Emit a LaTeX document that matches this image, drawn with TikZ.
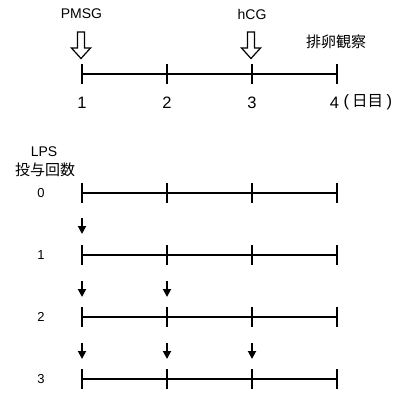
\documentclass[tikz,border=0pt]{standalone}
\usepackage{fontspec}
\setmainfont{Liberation Sans}
\newfontfamily\jpfont{Noto Sans CJK JP}
\usetikzlibrary{arrows.meta}
\begin{document}
\begin{tikzpicture}[x=1pt,y=-1pt,
  tl/.style={line width=1.1pt},
  tk/.style={line width=1.8pt},
  lbl/.style={font=\fontsize{14}{16}\selectfont, inner sep=0pt},
  rowlbl/.style={font=\fontsize{13}{15}\selectfont, inner sep=0pt},
  jp/.style={font=\jpfont\fontsize{15}{17}\selectfont, inner sep=0pt},
  num/.style={font=\fontsize{16.5}{18}\selectfont, inner sep=0pt},
  hollow/.style={draw, line width=1.2pt, fill=white, line join=miter},
  dose/.style={-{Triangle[width=8pt,length=8pt]}, line width=1.8pt}]
\useasboundingbox (0,0) rectangle (395,394);
% top timeline
\foreach \i/\x in {1/82,2/167,3/252,4/337}{
  \coordinate (t\i) at (\x,74);
  \draw[tk] (\x,64) -- (\x,84);
}
\draw[tl] (t1) -- (t4);
\node[num] (n1) at (82,102.5) {1};
\node[num] (n2) at (167,102.5) {2};
\node[num] (n3) at (252,102.5) {3};
\node[num] (n4) at (334.5,102.5) {4};
\node[num, anchor=west] (unit) at (343.5,102.5) {(\hspace{3pt}{\jpfont\fontsize{15.5}{17}\selectfont 日目}\hspace{3.5pt})};
\node[lbl] (pmsg) at (81.5,14) {PMSG};
\node[lbl] (hcg) at (252,14) {hCG};
\node[jp] (obs) at (336,42) {排卵観察};
% hollow arrows
\foreach \c in {81,251}{
  \draw[hollow] (\c-3.5,32) -- (\c+3.5,32) -- (\c+3.5,48) -- (\c+9.5,48) -- (\c,58.5)
     -- (\c-9.5,48) -- (\c-3.5,48) -- cycle;
}
% LPS label
\node[lbl] (lps) at (44,151.5) {LPS};
\node[jp] (tou) at (45,170) {投与回数};
% rows
\foreach \r/\y in {0/193,1/255,2/317,3/379}{
  \node[rowlbl] (r\r) at (41,\y) {\r};
  \foreach \i/\x in {1/82,2/167,3/252,4/337}{
    \coordinate (p\r\i) at (\x,\y);
    \draw[tk] (\x,\y-10) -- (\x,\y+10);
  }
  \draw[tl] (p\r1) -- (p\r4);
}
% dose arrows
\foreach \x/\y in {82/218, 82/281, 167/281, 82/343, 167/343, 252/343}{
  \coordinate (a) at (\x,\y);
  \coordinate (b) at (\x,\y+16);
  \draw[dose] (a) -- (b);
}
\end{tikzpicture}
\end{document}
